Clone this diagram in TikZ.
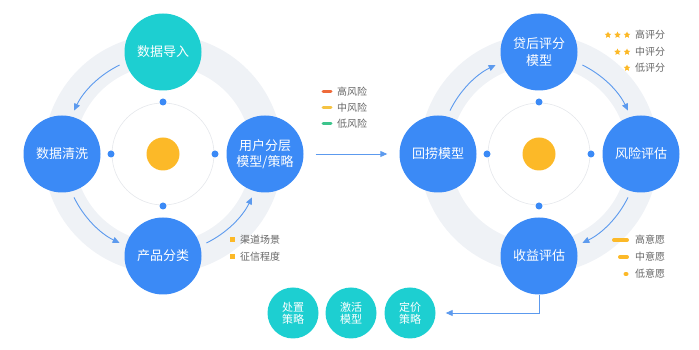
\documentclass[tikz,border=0pt]{standalone}
\usepackage{fontspec}
\setmainfont{Noto Sans CJK SC}
\usetikzlibrary{arrows.meta,positioning,calc,shapes.geometric}

\definecolor{nodeblue}{HTML}{3B8AF6}
\definecolor{nodecyan}{HTML}{1DCFD1}
\definecolor{flowblue}{HTML}{5C9AEE}
\definecolor{ringgray}{HTML}{EFF2F6}
\definecolor{thingray}{HTML}{E4E7EB}
\definecolor{coreorange}{HTML}{FCB928}
\definecolor{riskred}{HTML}{EE6A3A}
\definecolor{riskyellow}{HTML}{F5C343}
\definecolor{riskgreen}{HTML}{3DC48C}
\definecolor{legtextgray}{HTML}{666666}

\tikzset{
  bignode/.style={circle,fill=nodeblue,minimum size=77pt,inner sep=0pt,text=white,
    align=center,font=\fontsize{13}{16.5}\selectfont},
  cyannode/.style={bignode,fill=nodecyan},
  smallnode/.style={circle,fill=nodecyan,minimum size=51pt,inner sep=0pt,text=white,
    align=center,font=\fontsize{11}{12}\selectfont},
  flow/.style={flowblue,line width=0.9pt,-{Triangle[length=7pt,width=6pt]}},
  legtext/.style={anchor=west,inner sep=0pt,text=legtextgray,font=\fontsize{10}{12}\selectfont},
  starmark/.style={star,star points=5,star point ratio=2.1,fill=coreorange,inner sep=0pt,minimum size=7pt},
  dotmark/.style={circle,fill=nodeblue,inner sep=0pt,minimum size=7pt}
}

\begin{document}
\begin{tikzpicture}[x=1pt,y=1pt,>=stealth]
  \useasboundingbox (0,0) rectangle (699,350);

  % ------- 两个环的中心 -------
  \coordinate (lc) at (163,196);
  \coordinate (rc) at (539,196);

  % ------- 背景环 -------
  \foreach \c in {lc,rc} {
    \draw[ringgray,line width=31pt] (\c) circle (104);
    \draw[thingray,line width=0.6pt] (\c) circle (51);
    \fill[coreorange] (\c) circle (16.5);
    \foreach \a in {0,90,180,270}
      \node[dotmark] at ($(\c)+(\a:52)$) {};
  }

  % ------- 左环：节点 -------
  \node[cyannode] (import) at (163,298) {数据导入};
  \node[bignode] (clean) at (62,196) {数据清洗};
  \node[bignode] (layer) at (265,196) {用户分层\\模型/策略};
  \node[bignode] (product) at (163,94) {产品分类};

  % ------- 右环：节点 -------
  \node[bignode] (score) at (539,298) {贷后评分\\模型};
  \node[bignode] (recall) at (438,196) {回捞模型};
  \node[bignode] (risk) at (641,196) {风险评估};
  \node[bignode] (income) at (539,94) {收益评估};

  % ------- 环上的箭头 -------
  \draw[flow] ($(lc)+(116:99)$) arc[start angle=116,end angle=154,radius=99];
  \draw[flow] ($(lc)+(206:99)$) arc[start angle=206,end angle=244,radius=99];
  \draw[flow] ($(lc)+(296:99)$) arc[start angle=296,end angle=334,radius=99];
  \draw[flow] ($(rc)+(154:99)$) arc[start angle=154,end angle=116,radius=99];
  \draw[flow] ($(rc)+(64:99)$) arc[start angle=64,end angle=26,radius=99];
  \draw[flow] ($(rc)+(-26:99)$) arc[start angle=-26,end angle=-64,radius=99];

  % ------- 两环之间 -------
  \draw[flow,shorten <=12pt,shorten >=12pt] (layer) -- (recall);

  % ------- 底部策略 -------
  \node[smallnode] (dispose) at (293,37) {处置\\策略};
  \node[smallnode] (activate) at (351,37) {激活\\模型};
  \node[smallnode] (price) at (410,37) {定价\\策略};
  \draw[flow] (income.south) |- ([xshift=10pt]price.east);

  % ------- 图例：风险 -------
  \draw[riskred,line width=3pt,line cap=round] (323,258) -- (331,258);
  \draw[riskyellow,line width=3pt,line cap=round] (323,242) -- (331,242);
  \draw[riskgreen,line width=3pt,line cap=round] (323,226) -- (331,226);
  \node[legtext] (hirisk) at (337,258) {高风险};
  \node[legtext] (midrisk) at (337,242) {中风险};
  \node[legtext] (lowrisk) at (337,226) {低风险};

  % ------- 图例：评分 -------
  \foreach \x in {608,617.5,627} \node[starmark] at (\x,315) {};
  \foreach \x in {617.5,627} \node[starmark] at (\x,298) {};
  \node[starmark] at (627,282) {};
  \node[legtext] (hiscore) at (635,315) {高评分};
  \node[legtext] (midscore) at (635,298) {中评分};
  \node[legtext] (lowscore) at (635,282) {低评分};

  % ------- 图例：意愿 -------
  \draw[coreorange,line width=4pt,line cap=round] (614,110) -- (627,110);
  \draw[coreorange,line width=4pt,line cap=round] (620,93) -- (627,93);
  \draw[coreorange,line width=4pt,line cap=round] (625.5,76) -- (626.5,76);
  \node[legtext] (hiwill) at (635,110) {高意愿};
  \node[legtext] (midwill) at (635,93) {中意愿};
  \node[legtext] (lowwill) at (635,76) {低意愿};

  % ------- 图例：渠道 -------
  \fill[coreorange] (229.5,107.5) rectangle (234.5,112.5);
  \fill[coreorange] (229.5,90.5) rectangle (234.5,95.5);
  \node[legtext] (channel) at (240,110) {渠道场景};
  \node[legtext] (credit) at (240,93) {征信程度};

\end{tikzpicture}
\end{document}
